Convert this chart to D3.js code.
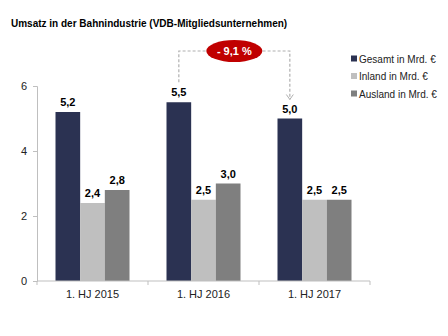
<!DOCTYPE html>
<html><head><meta charset="utf-8">
<script src="https://cdn.jsdelivr.net/npm/d3@7"></script>
<style>body{margin:0;background:#fff}svg{display:block;font-family:"Liberation Sans",Arial,sans-serif}</style>
</head><body><svg id="c" width="448" height="336"></svg>
<script>
const categories = ["1. HJ 2015", "1. HJ 2016", "1. HJ 2017"];
const seriesNames = ["Gesamt in Mrd. €", "Inland in Mrd. €", "Ausland in Mrd. €"];
const gesamt = [5.2, 5.5, 5.0];
const inland = [2.4, 2.5, 2.5];
const ausland = [2.8, 3.0, 2.5];
const yTicks = [0, 2, 4, 6];
const changeLabel = "- 9,1 %";
const colors = ["#2b3252", "#bfbfbf", "#7f7f7f"];

const values = [gesamt, inland, ausland];
const svg = d3.select("#c");
const fmt = v => d3.format(".1f")(v).replace(".", ",");

svg.append("text").attr("x", 11).attr("y", 26.5).attr("font-size", 10).attr("font-weight", "bold")
  .text("Umsatz in der Bahnindustrie (VDB-Mitgliedsunternehmen)");

const x = d3.scaleBand().domain(categories).range([37, 370]).paddingInner(0).paddingOuter(0);
const xs = d3.scaleBand().domain(seriesNames).range([0, x.bandwidth()]).paddingInner(0).paddingOuter(0.75);
const y = d3.scaleLinear().domain([0, 6]).range([281, 86]);

// y axis
const ya = svg.append("g").attr("transform", "translate(37,0)")
  .call(d3.axisLeft(y).tickValues(yTicks).tickFormat(d3.format("d")).tickSize(4).tickPadding(6));
ya.select(".domain").attr("stroke", "#bfbfbf");
ya.selectAll(".tick line").attr("stroke", "#bfbfbf");
ya.selectAll("text").attr("font-size", 11).attr("fill", "#222").attr("font-family", "Liberation Sans, Arial");

// bars
categories.forEach((c, i) => {
  seriesNames.forEach((s, j) => {
    const v = values[j][i];
    const bx = x(c) + xs(s);
    svg.append("rect").attr("x", bx).attr("y", y(v)).attr("width", xs.bandwidth()).attr("height", y(0) - y(v))
      .attr("fill", colors[j]);
    svg.append("text").attr("x", bx + xs.bandwidth() / 2).attr("y", y(v) - 6)
      .attr("text-anchor", "middle").attr("font-size", 11).attr("font-weight", "bold").text(fmt(v));
  });
});

// x axis
const xa = svg.append("g").attr("transform", "translate(0,281)");
xa.append("line").attr("x1", 37).attr("x2", 370).attr("stroke", "#bfbfbf");
const bounds = categories.map(c => x(c)).concat([x(categories[2]) + x.bandwidth()]);
bounds.forEach(b => xa.append("line").attr("x1", b).attr("x2", b).attr("y1", 0).attr("y2", 4).attr("stroke", "#bfbfbf"));
categories.forEach(c => xa.append("text").attr("x", x(c) + x.bandwidth() / 2).attr("y", 16.5)
  .attr("text-anchor", "middle").attr("font-size", 11).attr("fill", "#222").text(c));

// annotation
const c1 = x(categories[1]) + xs(seriesNames[0]) + xs.bandwidth() / 2;
const c2 = x(categories[2]) + xs(seriesNames[0]) + xs.bandwidth() / 2;
const topY = 51;
svg.append("path").attr("d", `M${c1},${y(gesamt[1]) - 20} V${topY} H${c2} V${y(gesamt[2]) - 19}`)
  .attr("fill", "none").attr("stroke", "#b0b0b0").attr("stroke-width", 1.2).attr("stroke-dasharray", "3,2");
const ay = y(gesamt[2]) - 19;
svg.append("path").attr("d", `M${c2 - 3.5},${ay - 5} L${c2},${ay} L${c2 + 3.5},${ay - 5}`)
  .attr("fill", "none").attr("stroke", "#b0b0b0").attr("stroke-width", 1);
const mx = (c1 + c2) / 2;
svg.append("ellipse").attr("cx", mx).attr("cy", topY).attr("rx", 28).attr("ry", 11).attr("fill", "#c00000");
svg.append("text").attr("x", mx).attr("y", topY + 4).attr("text-anchor", "middle").attr("font-size", 11)
  .attr("font-weight", "bold").attr("fill", "#fff").text(changeLabel);

// legend
seriesNames.forEach((s, j) => {
  const ly = 59 + j * 17.5;
  svg.append("rect").attr("x", 351).attr("y", ly - 3.5).attr("width", 6).attr("height", 6).attr("fill", colors[j]);
  svg.append("text").attr("x", 359).attr("y", ly + 3.5).attr("font-size", 10).attr("fill", "#222").text(s);
});
</script></body></html>
